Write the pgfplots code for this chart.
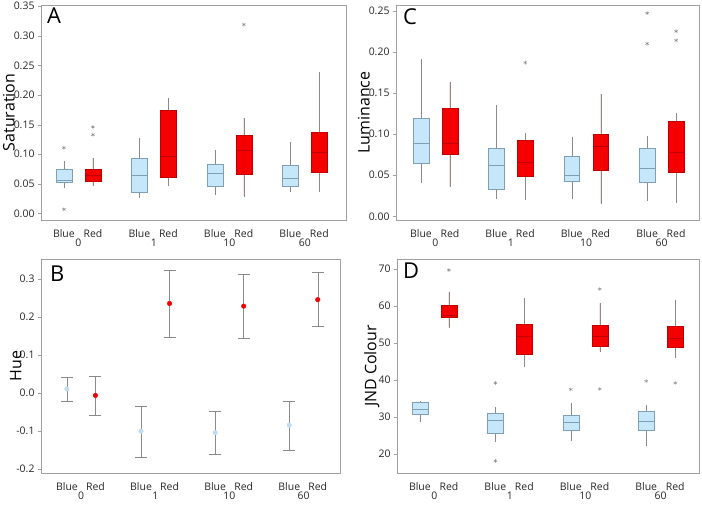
\documentclass[border=0pt]{standalone}
\usepackage{pgfplots}
\pgfplotsset{compat=1.18}
\usepgfplotslibrary{statistics}
\usepackage{fontspec}
\setmainfont{Open Sans}
\definecolor{bfill}{HTML}{C6E6FA}
\definecolor{bdraw}{HTML}{7F9FB4}
\definecolor{rfill}{HTML}{F50000}
\definecolor{rdraw}{HTML}{C00000}
\definecolor{wgray}{HTML}{8A8A8A}
\definecolor{axgray}{HTML}{A0A0A0}
\definecolor{ptblue}{HTML}{BFDDF2}
\pgfplotsset{
  panel/.style={
    scale only axis,
    axis line style={draw=axgray},
    xtick={0,1,2.6,3.6,5.2,6.2,7.8,8.8},
    xticklabels={Blue,Red,Blue,Red,Blue,Red,Blue,Red},
    extra x ticks={0.5,3.1,5.7,8.3},
    extra x tick labels={0,1,10,60},
    extra x tick style={xticklabel style={yshift=-13bp}, major tick length=0pt},
    xticklabel style={yshift=-5bp, inner sep=1bp},
    x tick style={draw=none},
    y tick style={draw=axgray},
    tick align=outside,
    ytick pos=left, xtick pos=bottom,
    tick label style={font=\fontsize{10.5}{12}\selectfont, text=black!85},
    major tick length=3bp,
    every axis y label/.style={rotate=90, anchor=center, font=\fontsize{16}{19}\selectfont},
    /pgf/number format/assume math mode=true,
  },
}
\newcommand{\myboxplot}[8]{\addplot+[#1, boxplot prepared={draw direction=y, draw position=#2, lower whisker=#3, lower quartile=#4, median=#5, upper quartile=#6, upper whisker=#7, box extend=0.55, whisker extend=0.001, every whisker/.style={draw=wgray}}] coordinates {#8};}
\newcommand{\mypanellabel}[3]{\node[anchor=north west, inner sep=0pt, font=\fontsize{22}{24}\selectfont] at ([xshift=#2, yshift=#3]rel axis cs:0,1) {#1};}
\pgfplotsset{
  bbx/.style={solid, draw=bdraw, fill=bfill, mark=asterisk, mark size=2bp, mark options={draw=wgray, fill=none}},
  rbx/.style={solid, draw=rdraw, fill=rfill, mark=asterisk, mark size=2bp, mark options={draw=wgray, fill=none}},
}
\begin{document}
\begin{tikzpicture}
\useasboundingbox (0,0) rectangle (702bp,505bp);
% Panel A
\begin{axis}[panel, at={(41bp,285bp)}, anchor=south west, width=305bp, height=215bp,
  xmin=-0.79, xmax=9.72, ymin=-0.011, ymax=0.352,
  ytick={0,0.05,0.1,0.15,0.2,0.25,0.3,0.35},
  yticklabel style={/pgf/number format/.cd, fixed, fixed zerofill, precision=2},
  ylabel={Saturation}, ylabel style={at={(axis description cs:-0.105,0.5)}}]
\myboxplot{bbx}{0}{0.044}{0.053}{0.057}{0.074}{0.088}{(0,0.111) (0,0.007)}
\myboxplot{rbx}{1}{0.048}{0.055}{0.065}{0.074}{0.093}{(1,0.146) (1,0.133)}
\myboxplot{bbx}{2.6}{0.027}{0.036}{0.064}{0.093}{0.127}{}
\myboxplot{rbx}{3.6}{0.047}{0.062}{0.096}{0.174}{0.195}{}
\myboxplot{bbx}{5.2}{0.033}{0.046}{0.068}{0.084}{0.106}{}
\myboxplot{rbx}{6.2}{0.030}{0.067}{0.107}{0.132}{0.161}{(6.2,0.319)}
\myboxplot{bbx}{7.8}{0.037}{0.046}{0.059}{0.081}{0.120}{}
\myboxplot{rbx}{8.8}{0.037}{0.070}{0.104}{0.138}{0.239}{}
\mypanellabel{A}{6bp}{-3bp}
\end{axis}
% Panel C
\begin{axis}[panel, at={(396bp,285bp)}, anchor=south west, width=303bp, height=215bp,
  xmin=-0.86, xmax=9.59, ymin=-0.0045, ymax=0.257,
  ytick={0,0.05,0.1,0.15,0.2,0.25},
  yticklabel style={/pgf/number format/.cd, fixed, fixed zerofill, precision=2},
  ylabel={Luminance}, ylabel style={at={(axis description cs:-0.106,0.5)}}]
\myboxplot{bbx}{0}{0.041}{0.065}{0.089}{0.119}{0.191}{}
\myboxplot{rbx}{1}{0.037}{0.075}{0.089}{0.132}{0.163}{}
\myboxplot{bbx}{2.6}{0.022}{0.033}{0.062}{0.083}{0.135}{}
\myboxplot{rbx}{3.6}{0.021}{0.049}{0.066}{0.092}{0.101}{(3.6,0.187)}
\myboxplot{bbx}{5.2}{0.022}{0.043}{0.050}{0.073}{0.096}{}
\myboxplot{rbx}{6.2}{0.016}{0.056}{0.085}{0.100}{0.149}{}
\myboxplot{bbx}{7.8}{0.020}{0.041}{0.058}{0.083}{0.098}{(7.8,0.247) (7.8,0.210)}
\myboxplot{rbx}{8.8}{0.017}{0.054}{0.078}{0.116}{0.126}{(8.8,0.225) (8.8,0.214)}
\mypanellabel{C}{7bp}{-3bp}
\end{axis}
% Panel B
\begin{axis}[panel, at={(41bp,32bp)}, anchor=south west, width=299bp, height=214bp,
  xmin=-0.91, xmax=9.58, ymin=-0.21, ymax=0.353,
  ytick={-0.2,-0.1,0,0.1,0.2,0.3},
  yticklabels={-0.2,-0.1,0.0,0.1,0.2,0.3},
  ylabel={Hue}, ylabel style={at={(axis description cs:-0.084,0.5)}}]
\addplot[only marks, mark=*, mark size=2.3bp, ptblue,
  error bars/.cd, y dir=both, y explicit,
  error bar style={draw=wgray}, error mark options={rotate=90, draw=wgray, mark size=6bp}]
  coordinates {
  (0,0.011) += (0,0.031) -= (0,0.032)
  (2.6,-0.100) += (0,0.066) -= (0,0.069)
  (5.2,-0.104) += (0,0.056) -= (0,0.056)
  (7.8,-0.084) += (0,0.064) -= (0,0.065)
  };
\addplot[only marks, mark=*, mark size=2.3bp, rfill,
  error bars/.cd, y dir=both, y explicit,
  error bar style={draw=wgray}, error mark options={rotate=90, draw=wgray, mark size=6bp}]
  coordinates {
  (1,-0.006) += (0,0.051) -= (0,0.052)
  (3.6,0.236) += (0,0.087) -= (0,0.089)
  (6.2,0.229) += (0,0.084) -= (0,0.084)
  (8.8,0.246) += (0,0.071) -= (0,0.071)
  };
\mypanellabel{B}{9bp}{-7bp}
\end{axis}
% Panel D
\begin{axis}[panel, at={(397bp,32bp)}, anchor=south west, width=302bp, height=214bp,
  xmin=-0.79, xmax=9.62, ymin=14.8, ymax=72.6,
  ytick={20,30,40,50,60,70},
  ylabel={JND Colour}, ylabel style={at={(axis description cs:-0.083,0.5)}}]
\myboxplot{bbx}{0}{28.7}{30.6}{32.1}{33.8}{34.3}{}
\myboxplot{rbx}{1}{54.2}{56.8}{57.5}{60.1}{63.7}{(1,69.6)}
\myboxplot{bbx}{2.6}{23.3}{25.6}{29.1}{30.9}{32.7}{(2.6,39.1) (2.6,18.1)}
\myboxplot{rbx}{3.6}{43.7}{46.9}{51.8}{54.9}{62.1}{}
\myboxplot{bbx}{5.2}{23.6}{26.4}{28.6}{30.4}{33.6}{(5.2,37.4)}
\myboxplot{rbx}{6.2}{47.8}{49.0}{51.7}{54.7}{60.6}{(6.2,64.5) (6.2,37.5)}
\myboxplot{bbx}{7.8}{22.3}{26.4}{28.9}{31.4}{33.0}{(7.8,39.6)}
\myboxplot{rbx}{8.8}{46.0}{48.7}{51.2}{54.5}{61.4}{(8.8,39.1)}
\mypanellabel{D}{6bp}{-4bp}
\end{axis}
\end{tikzpicture}
\end{document}
